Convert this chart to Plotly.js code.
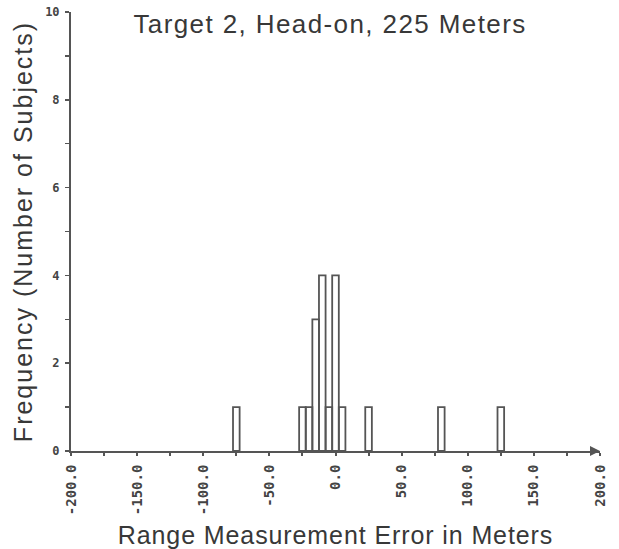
<!DOCTYPE html>
<html>
<head>
<meta charset="utf-8">
<script src="https://cdn.plot.ly/plotly-3.0.1.min.js"></script>
<style>
  html, body { margin: 0; padding: 0; background: #ffffff; }
  #chart { width: 619px; height: 549px; }
  .gtitle { letter-spacing: 1.4px; }
  .xtitle { letter-spacing: 0.9px; }
  .ytitle { letter-spacing: 2px; }
</style>
</head>
<body>
<div id="chart"></div>
<script>
// Histogram bins (center of 5 m bin, meters) and counts
const binCenters = [-75, -25, -20, -15, -10, -5, 0, 5, 25, 80, 125];
const counts     = [1, 1, 1, 3, 4, 1, 4, 1, 1, 1, 1];

// Axis ticks
const xTickVals = [-200, -175, -150, -125, -100, -75, -50, -25, 0, 25, 50, 75, 100, 125, 150, 175, 200];
const xTickText = ['-200.0', '', '-150.0', '', '-100.0', '', '-50.0', '', '0.0', '', '50.0', '', '100.0', '', '150.0', '', '200.0'];
const yTickVals = [0, 1, 2, 3, 4, 5, 6, 7, 8, 9, 10];
const yTickText = ['0', '', '2', '', '4', '', '6', '', '8', '', '10'];

const titleText = 'Target 2, Head-on, 225 Meters';
const xTitle = 'Range Measurement Error in Meters';
const yTitle = 'Frequency (Number of Subjects)';

const axisColor = '#555555';
const textColor = '#383838';
const titleFamily = '"Liberation Sans", Arial, sans-serif';

const trace = {
  type: 'bar',
  x: binCenters,
  y: counts,
  width: 5,
  marker: {color: 'rgba(255,255,255,0)', line: {color: '#555555', width: 1.8}},
  hoverinfo: 'x+y',
  showlegend: false
};

const layout = {
  width: 619,
  height: 549,
  paper_bgcolor: '#ffffff',
  plot_bgcolor: '#ffffff',
  margin: {l: 71, r: 19, t: 12, b: 98},
  showlegend: false,
  bargap: 0,
  title: {
    text: titleText,
    font: {family: titleFamily, size: 26, color: textColor},
    xref: 'container', x: 330 / 619, xanchor: 'center',
    yref: 'container', y: 1 - 33 / 549, yanchor: 'bottom'
  },
  xaxis: {
    range: [-200, 200],
    tickmode: 'array',
    tickvals: xTickVals,
    ticktext: xTickText,
    tickangle: -90,
    tickfont: {family: 'DejaVu Sans Mono', size: 14, color: '#444444', weight: 'bold'},
    ticks: 'outside', ticklen: 3, tickwidth: 2, tickcolor: axisColor,
    ticklabelstandoff: 3,
    showline: true, linecolor: axisColor, linewidth: 2,
    showgrid: false, zeroline: false,
    fixedrange: true,
    automargin: false,
    title: {
      text: xTitle,
      font: {family: titleFamily, size: 25, color: textColor},
      standoff: 12
    }
  },
  yaxis: {
    range: [0, 10],
    tickmode: 'array',
    tickvals: yTickVals,
    ticktext: yTickText,
    tickfont: {family: 'DejaVu Sans Mono', size: 12, color: '#444444', weight: 'bold'},
    ticks: 'outside', ticklen: 4, tickwidth: 1.5, tickcolor: axisColor,
    ticklabelstandoff: 3,
    showline: true, linecolor: axisColor, linewidth: 2,
    showgrid: false, zeroline: false,
    fixedrange: true,
    automargin: false,
    title: {
      text: yTitle,
      font: {family: titleFamily, size: 25, color: textColor},
      standoff: 5
    }
  },
  xaxis2: {
    overlaying: 'x', range: [-200, 200], side: 'bottom', anchor: 'y',
    tickmode: 'array', tickvals: xTickVals, showticklabels: false,
    ticks: 'inside', ticklen: 3, tickwidth: 2, tickcolor: axisColor,
    showline: false, showgrid: false, zeroline: false, fixedrange: true
  },
  yaxis2: {
    overlaying: 'y', range: [0, 10], side: 'left', anchor: 'x',
    tickmode: 'array', tickvals: yTickVals, showticklabels: false,
    ticks: 'inside', ticklen: 4, tickwidth: 1.5, tickcolor: axisColor,
    showline: false, showgrid: false, zeroline: false, fixedrange: true
  },
  annotations: [{
    x: 200, y: 0, xref: 'x', yref: 'y',
    ax: -6, ay: 0, axref: 'pixel', ayref: 'pixel',
    showarrow: true, arrowhead: 2, arrowsize: 1, arrowwidth: 2,
    arrowcolor: axisColor, text: '', standoff: -4
  }]
};

Plotly.newPlot('chart', [trace], layout, {displayModeBar: false, staticPlot: true});
</script>
</body>
</html>
